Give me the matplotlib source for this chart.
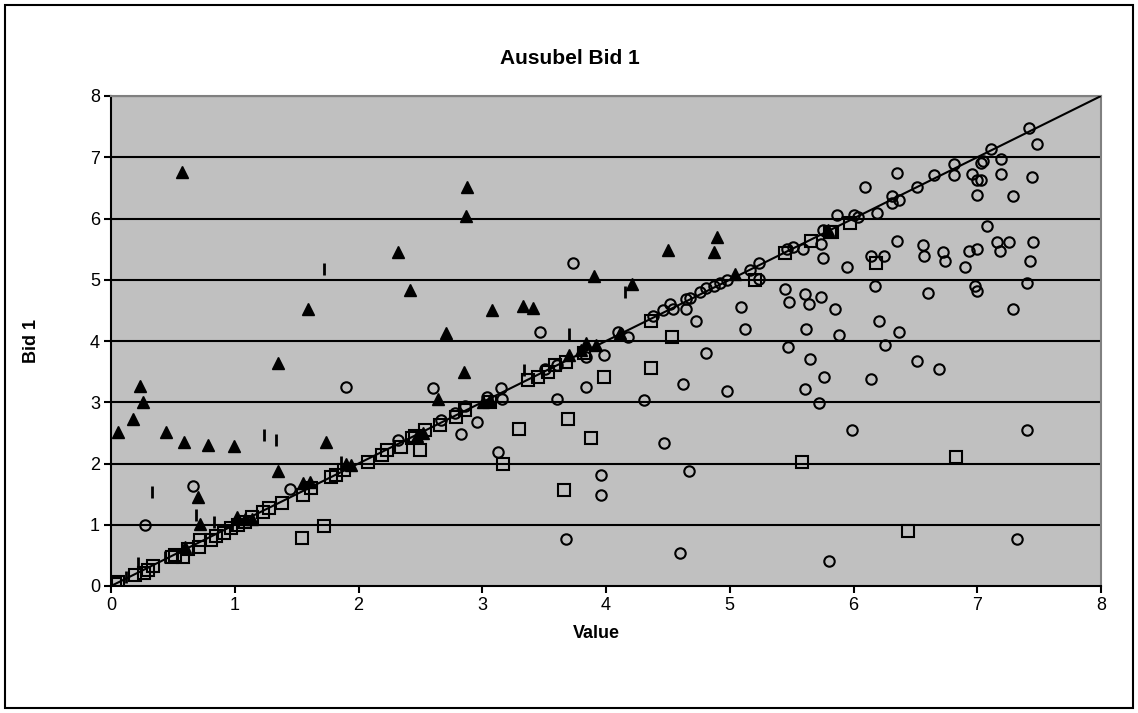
import matplotlib.pyplot as plt
from matplotlib.patches import Rectangle

# circles (open)
circle_x = [0.275, 0.66, 1.45, 1.9, 2.32, 2.6, 2.67, 2.78, 2.83, 2.86, 2.955, 3.04, 3.13, 3.15, 3.16,
            3.47, 3.51, 3.6, 3.6, 3.68, 3.73, 3.84, 3.84, 3.96, 3.96, 3.98, 4.10, 4.18, 4.31, 4.38,
            4.46, 4.47, 4.52, 4.54, 4.60, 4.62, 4.65, 4.65, 4.67, 4.68, 4.73, 4.76, 4.81, 4.81, 4.87,
            4.92, 4.975, 4.975, 5.09, 5.12, 5.16, 5.24, 5.24, 5.45, 5.46, 5.47, 5.48, 5.51, 5.59, 5.61,
            5.61, 5.62, 5.64, 5.65, 5.72, 5.735, 5.735, 5.75, 5.75, 5.76, 5.80, 5.85, 5.87, 5.885, 5.945,
            5.99, 6.0, 6.04, 6.09, 6.14, 6.14, 6.17, 6.19, 6.205, 6.25, 6.255, 6.31, 6.37, 6.31, 6.35,
            6.35, 6.365, 6.51, 6.51, 6.56, 6.57, 6.60, 6.65, 6.69, 6.72, 6.74, 6.81, 6.81, 6.90, 6.93,
            6.96, 6.98, 7.0, 7.0, 7.0, 7.0, 7.03, 7.03, 7.05, 7.08, 7.11, 7.16, 7.18, 7.19, 7.19,
            7.26, 7.29, 7.29, 7.32, 7.40, 7.40, 7.42, 7.43, 7.445, 7.45, 7.48]
circle_y = [1.0, 1.63, 1.59, 3.25, 2.38, 3.23, 2.71, 2.82, 2.48, 2.94, 2.67, 3.09, 2.18, 3.23, 3.06,
            4.14, 3.54, 3.61, 3.05, 0.77, 5.28, 3.25, 3.74, 1.82, 1.49, 3.77, 4.15, 4.07, 3.03, 4.41,
            4.51, 2.34, 4.61, 4.53, 0.54, 3.29, 4.68, 4.52, 1.88, 4.70, 4.33, 4.80, 4.86, 3.81, 4.89,
            4.95, 5.0, 3.19, 4.56, 4.2, 5.16, 5.27, 5.02, 4.85, 5.5, 3.91, 4.63, 5.54, 5.5, 4.76,
            3.22, 4.2, 4.6, 3.71, 2.99, 4.72, 5.58, 5.81, 5.35, 3.42, 0.41, 4.53, 6.06, 4.1, 5.21,
            2.54, 6.06, 6.03, 6.52, 5.38, 3.38, 4.89, 6.09, 4.33, 5.38, 3.93, 6.37, 6.30, 6.26, 6.75,
            5.64, 4.14, 6.52, 3.68, 5.57, 5.38, 4.79, 6.71, 3.54, 5.45, 5.31, 6.89, 6.71, 5.21, 5.47,
            6.72, 4.89, 4.82, 5.50, 6.39, 6.63, 6.63, 6.91, 6.94, 5.87, 7.13, 5.61, 5.47, 6.97, 6.72,
            5.61, 6.36, 4.53, 0.77, 4.95, 2.54, 7.47, 5.31, 6.68, 5.61, 7.21]

# squares (open)
square_x = [0.03, 0.06, 0.19, 0.27, 0.30, 0.34, 0.49, 0.52, 0.58, 0.62, 0.71, 0.72, 0.81, 0.85, 0.91,
            0.97, 1.03, 1.08, 1.14, 1.23, 1.28, 1.38, 1.55, 1.62, 1.78, 1.82, 1.88, 2.08, 2.19, 2.23,
            2.34, 2.43, 2.46, 2.54, 2.66, 2.79, 2.86, 3.06, 3.37, 3.45, 3.53, 3.59, 3.68, 3.82, 4.36,
            5.20, 5.45, 5.66, 5.81, 5.83, 5.97,
            1.54, 1.72, 2.50, 3.17, 3.30, 3.69, 3.66, 3.88, 3.98, 4.36, 4.53, 5.58, 6.18, 6.44, 6.83]
square_y = [0.03, 0.07, 0.18, 0.22, 0.26, 0.32, 0.48, 0.5, 0.48, 0.6, 0.64, 0.75, 0.75, 0.82, 0.86,
            0.95, 1.0, 1.05, 1.13, 1.21, 1.27, 1.35, 1.48, 1.6, 1.78, 1.82, 1.89, 2.03, 2.14, 2.22,
            2.27, 2.41, 2.45, 2.55, 2.63, 2.76, 2.87, 3.01, 3.36, 3.42, 3.5, 3.61, 3.65, 3.8, 4.32,
            5.0, 5.43, 5.64, 5.78, 5.78, 5.93,
            0.79, 0.98, 2.22, 2.0, 2.56, 2.72, 1.57, 2.42, 3.42, 3.56, 4.06, 2.03, 5.28, 0.89, 2.10]

# triangles (filled)
tri_x = [0.06, 0.18, 0.234, 0.26, 0.444, 0.59, 0.571, 0.60, 0.70, 0.72, 0.78, 0.99, 1.02, 1.08, 1.14,
         1.347, 1.35, 1.55, 1.59, 1.61, 1.737, 1.9, 1.94, 2.32, 2.42, 2.47, 2.52, 2.64, 2.71, 2.85,
         2.87, 2.88, 3.01, 3.06, 3.08, 3.33, 3.41, 3.70, 3.80, 3.84, 3.92, 3.90, 4.11, 4.21, 4.50,
         4.87, 4.90, 5.04, 5.79]
tri_y = [2.52, 2.72, 3.27, 3.01, 2.52, 2.35, 6.76, 0.64, 1.46, 1.02, 2.31, 2.29, 1.13, 1.1, 1.1,
         3.64, 1.87, 1.68, 4.53, 1.70, 2.35, 2.0, 1.98, 5.45, 4.83, 2.45, 2.5, 3.06, 4.13, 3.50,
         6.04, 6.52, 3.01, 3.04, 4.51, 4.57, 4.54, 3.77, 3.85, 3.96, 3.93, 5.06, 4.13, 4.93, 5.49,
         5.45, 5.69, 5.1, 5.82]

# vertical dashes
dash_x = [0.12, 0.22, 0.33, 0.44, 0.69, 0.83, 0.975, 1.24, 1.33, 1.72, 1.86, 3.34, 3.70, 4.15]
dash_y = [0.15, 0.37, 1.54, 0.48, 1.16, 1.05, 1.0, 2.47, 2.38, 5.17, 2.03, 3.53, 4.11, 4.8]

ticks = [0, 1, 2, 3, 4, 5, 6, 7, 8]

plt.rcParams['font.family'] = ['Liberation Sans', 'DejaVu Sans']

fig = plt.figure(figsize=(11.38, 7.13), dpi=100)
ax = fig.add_axes([111 / 1138, 1 - 586 / 713, 990 / 1138, 490 / 713])
ax.set_facecolor('#C0C0C0')

for t in ticks[1:]:
    ax.axhline(t, color='black', lw=1.5, zorder=1)

ax.plot(square_x, square_y, 's', ms=8, mfc='none', mec='black', mew=1.5, zorder=3)
ax.plot(circle_x, circle_y, 'o', ms=7.5, mfc='none', mec='black', mew=1.5, zorder=3)
ax.plot(tri_x, tri_y, '^', ms=9, mfc='black', mec='black', zorder=4)
ax.plot(dash_x, dash_y, '|', ms=9, mec='black', mew=2, zorder=4)
ax.plot([0, 8], [0, 8], color='black', lw=1.5, zorder=5)

ax.set_xlim(0, 8)
ax.set_ylim(0, 8)
ax.set_xticks(ticks)
ax.set_yticks(ticks)
ax.tick_params(labelsize=13, length=5, width=1.5, direction='out')
ax.tick_params(axis='y', pad=3)
ax.tick_params(axis='x', pad=3)
for s in ['left', 'bottom']:
    ax.spines[s].set_color('black')
    ax.spines[s].set_linewidth(1.5)
for s in ['top', 'right']:
    ax.spines[s].set_color('#808080')
    ax.spines[s].set_linewidth(1.5)

fig.text(596 / 1138, 1 - 633 / 713, 'Value', fontsize=13, fontweight='bold',
         ha='center', va='center')
fig.text(32 / 1138, 1 - 341 / 713, 'Bid 1', fontsize=13, fontweight='bold',
         ha='center', va='center', rotation=90)
fig.text(570 / 1138, 1 - 58 / 713, 'Ausubel Bid 1', fontsize=15, fontweight='bold',
         ha='center', va='center')

fig.patches.append(Rectangle((5 / 1138, 5 / 713), 1128 / 1138, 703 / 713, transform=fig.transFigure,
                             fill=False, edgecolor='black', lw=1.5))

fig.savefig('out.png', dpi=100)
